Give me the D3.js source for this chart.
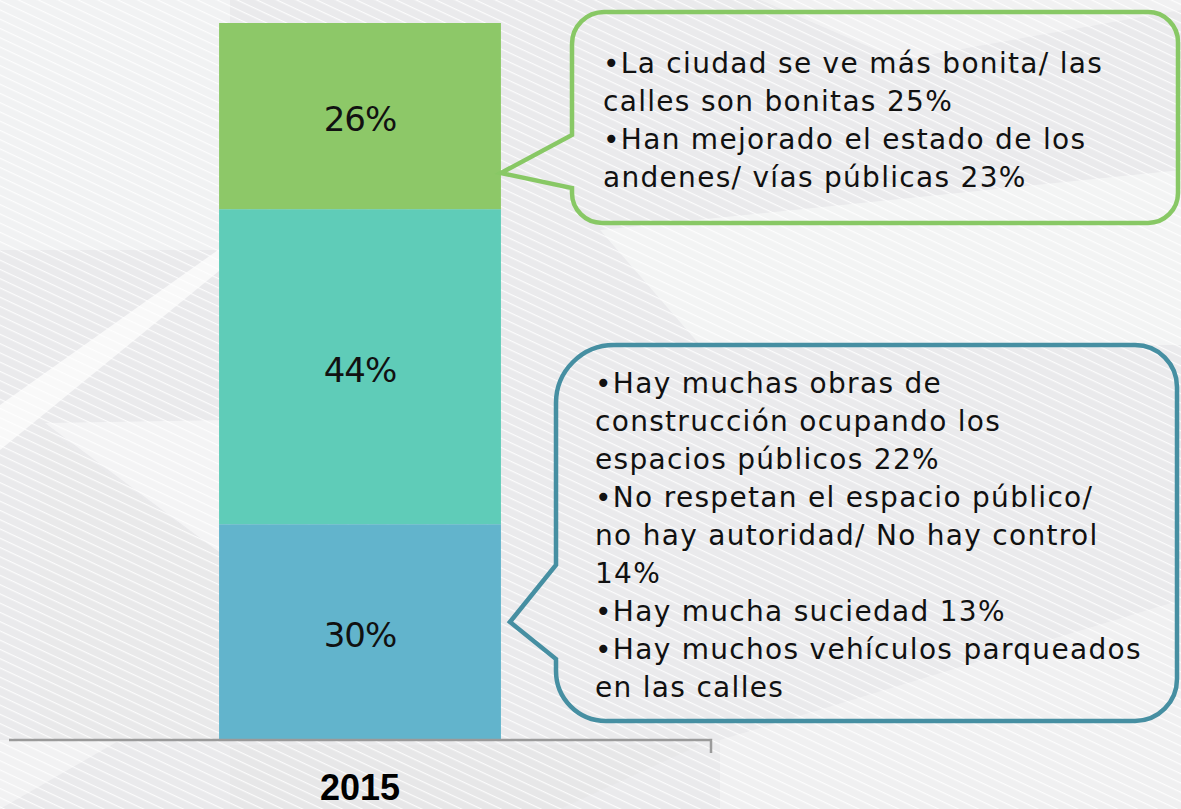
<!DOCTYPE html>
<html>
<head>
<meta charset="utf-8">
<script src="https://cdn.jsdelivr.net/npm/d3@7"></script>
<style>
  html, body { margin: 0; padding: 0; background: #ebebed; overflow: hidden; }
  svg { display: block; }
</style>
</head>
<body>
<svg id="chart" width="1181" height="809"></svg>
<script>
// ---------------- DATA ----------------
const categories = ["2015"];
const segmentKeys = ["negativo", "neutral", "positivo"];      // bottom -> top
const segmentValues = [30, 44, 26];                            // % for 2015
const segmentLabels = ["30%", "44%", "26%"];
const positiveLines = [
  "•La ciudad se ve más bonita/ las",
  "calles son bonitas 25%",
  "•Han mejorado el estado de los",
  "andenes/ vías públicas 23%"
];
const negativeLines = [
  "•Hay muchas obras de",
  "construcción ocupando los",
  "espacios públicos 22%",
  "•No respetan el espacio público/",
  "no hay autoridad/ No hay control",
  "14%",
  "•Hay mucha suciedad 13%",
  "•Hay muchos vehículos parqueados",
  "en las calles"
];

// ---------------- STYLE / LAYOUT ----------------
const W = 1181, H = 809;
const segColors = { negativo: "#62b4cc", neutral: "#5fccb8", positivo: "#8dc868" };
const svg = d3.select("#chart");

// background
const defs = svg.append("defs");
const pat = defs.append("pattern")
  .attr("id", "stripes").attr("patternUnits", "userSpaceOnUse")
  .attr("width", 40).attr("height", 8.4)
  .attr("patternTransform", "rotate(25)");
pat.append("line").attr("x1", 0).attr("x2", 40).attr("y1", 0.6).attr("y2", 0.6)
  .attr("stroke", "#ffffff").attr("stroke-width", 1.1).attr("stroke-opacity", 0.85);

const bg = svg.append("g");
bg.append("rect").attr("width", W).attr("height", H).attr("fill", "#eaeaec");
const polys = [
  {pts: [[0,0],[230,0],[230,250],[0,250]], fill: "#f1f2f3", op: 1},
  {pts: [[0,405],[225,245],[230,262],[0,450]], fill: "#ffffff", op: 0.7},
  {pts: [[45,423],[230,420],[230,560]], fill: "#f5f5f6", op: 0.9},
  {pts: [[40,425],[230,560],[230,740],[40,740]], fill: "#e7e7e9", op: 0.6},
  {pts: [[600,230],[1181,170],[1181,345],[700,345]], fill: "#f5f6f6", op: 0.8},
  {pts: [[760,0],[1181,0],[1181,10],[900,60]], fill: "#f3f3f4", op: 0.8},
  {pts: [[720,740],[1181,600],[1181,809],[720,809]], fill: "#f1f1f2", op: 0.9},
  {pts: [[230,745],[700,745],[560,809],[230,809]], fill: "#e5e5e7", op: 0.7},
  {pts: [[0,740],[120,740],[0,809]], fill: "#f3f3f4", op: 0.9}
];
bg.selectAll("polygon").data(polys).join("polygon")
  .attr("points", d => d.pts.map(p => p.join(",")).join(" "))
  .attr("fill", d => d.fill).attr("fill-opacity", d => d.op);
bg.append("rect").attr("width", W).attr("height", H).attr("fill", "url(#stripes)");

// scales
const x = d3.scaleBand().domain(categories).range([9, 711]).paddingInner(0.427).paddingOuter(0.427);
const y = d3.scaleLinear().domain([0, 100]).range([739, 23]);

const row = { cat: categories[0] };
segmentKeys.forEach((k, i) => row[k] = segmentValues[i]);
const stack = d3.stack().keys(segmentKeys)([row]);

// bars
const gBars = svg.append("g");
gBars.selectAll("rect").data(stack).join("rect")
  .attr("x", d => x(d[0].data.cat))
  .attr("width", x.bandwidth())
  .attr("y", d => y(d[0][1]))
  .attr("height", d => y(d[0][0]) - y(d[0][1]))
  .attr("fill", d => segColors[d.key]);

gBars.selectAll("text").data(stack).join("text")
  .attr("x", d => x(d[0].data.cat) + x.bandwidth() / 2)
  .attr("y", d => (y(d[0][0]) + y(d[0][1])) / 2 + 15)
  .attr("text-anchor", "middle")
  .attr("font-family", "DejaVu Sans, sans-serif")
  .attr("font-size", 34).attr("letter-spacing", -1)
  .attr("fill", "#111")
  .text((d, i) => segmentLabels[i]);

// axis
const axisY = y(0) + 1;
const [r0, r1] = x.range();
svg.append("path")
  .attr("d", `M${r0},${axisY}H${r1}V${axisY + 13}`)
  .attr("fill", "none").attr("stroke", "#9a9a9a").attr("stroke-width", 2.5);
const ax = svg.append("g").attr("transform", `translate(0,${axisY})`)
  .call(d3.axisBottom(x).tickSize(0).tickPadding(0));
ax.select(".domain").remove();
ax.selectAll("text")
  .attr("y", 60).attr("dy", 0)
  .attr("font-family", "Liberation Sans, Arial, sans-serif")
  .attr("font-weight", "bold").attr("font-size", 36).attr("fill", "#000");

// callouts
function bubblePath(b) {
  const [rtl, rtr, rbr, rbl] = b.r;
  return `M${b.x0 + rtl},${b.y0}H${b.x1 - rtr}` +
    `A${rtr},${rtr} 0 0 1 ${b.x1},${b.y0 + rtr}V${b.y1 - rbr}` +
    `A${rbr},${rbr} 0 0 1 ${b.x1 - rbr},${b.y1}H${b.x0 + rbl}` +
    `A${rbl},${rbl} 0 0 1 ${b.x0},${b.y1 - rbl}V${b.py1}` +
    `L${b.tipX},${b.tipY}L${b.x0},${b.py0}V${b.y0 + rtl}` +
    `A${rtl},${rtl} 0 0 1 ${b.x0 + rtl},${b.y0}Z`;
}
const barRight = x(categories[0]) + x.bandwidth();
const bubbles = [
  {x0: 572, y0: 12, x1: 1178, y1: 223, r: [32, 30, 30, 30], py0: 135, py1: 188,
   tipX: barRight, tipY: 173, stroke: "#88c865", lines: positiveLines, tx: 603, ty: 73},
  {x0: 556, y0: 345, x1: 1177, y1: 721, r: [58, 42, 42, 50], py0: 565, py1: 659,
   tipX: barRight + 9, tipY: 622, stroke: "#468fa2", lines: negativeLines, tx: 595, ty: 393}
];
const gB = svg.append("g");
bubbles.forEach(b => {
  gB.append("path").attr("d", bubblePath(b))
    .attr("fill", "none").attr("stroke", b.stroke).attr("stroke-width", 4.5)
    .attr("stroke-linejoin", "miter");
  gB.append("g").selectAll("text").data(b.lines).join("text")
    .attr("x", b.tx).attr("y", (d, i) => b.ty + i * 38)
    .attr("font-family", "DejaVu Sans, sans-serif")
    .attr("font-size", 28).attr("letter-spacing", 1.3)
    .attr("fill", "#111")
    .text(d => d);
});
</script>
</body>
</html>
